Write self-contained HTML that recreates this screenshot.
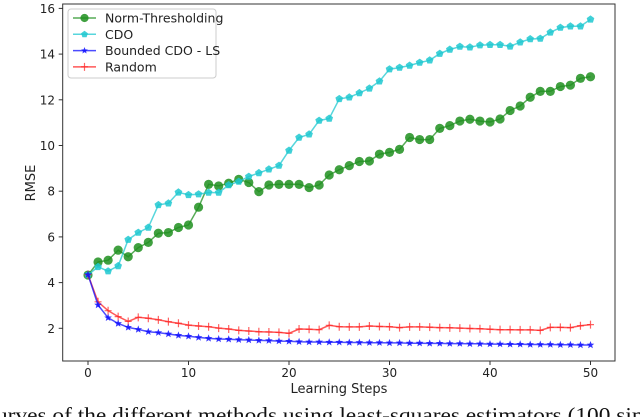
<!DOCTYPE html>
<html><head><meta charset="utf-8"><style>
html,body{margin:0;padding:0;background:#fff;width:640px;height:417px;overflow:hidden}
svg{display:block;font-family:"DejaVu Sans","Liberation Sans",sans-serif}
</style></head><body>
<svg id="chart" width="640" height="417" viewBox="0 0 640 417">
<rect x="0" y="0" width="640" height="417" fill="#fff"/>
<g id="grid"></g>
<g id="series"></g>
<rect x="62.7" y="4" width="552.3" height="357" fill="none" stroke="#333" stroke-width="1"/>
<g id="ticks"></g>
<text x="0" y="0" transform="translate(35,183) rotate(-90)" text-anchor="middle" font-size="13" fill="#222">RMSE</text>
<text x="339" y="393" text-anchor="middle" font-size="13" fill="#222">Learning Steps</text>
<g>
<rect x="68" y="9" width="148" height="69" rx="3" fill="#fff" fill-opacity="0.85" stroke="#ccc"/>
<g id="legend-items"></g>
</g>
<text x="-4" y="422" font-family="'Liberation Serif',serif" font-size="21" fill="#111" textLength="654" lengthAdjust="spacingAndGlyphs">urves of the different methods using least-squares estimators (100 sim</text>
</svg>
<script>
const steps = Array.from({length:51},(_, i)=>i);
const normThresholding = [4.33,4.90,4.98,5.42,5.13,5.53,5.76,6.16,6.19,6.41,6.52,7.30,8.30,8.23,8.35,8.52,8.38,7.98,8.27,8.30,8.30,8.30,8.16,8.27,8.71,8.94,9.12,9.30,9.32,9.62,9.70,9.83,10.35,10.26,10.26,10.75,10.87,11.07,11.15,11.07,11.03,11.16,11.53,11.73,12.11,12.37,12.37,12.58,12.64,12.94,13.01];
const cdo = [4.33,4.69,4.50,4.73,5.88,6.19,6.41,7.40,7.47,7.95,7.84,7.87,7.94,7.94,8.27,8.42,8.64,8.80,8.96,9.12,9.78,10.35,10.49,11.09,11.18,12.04,12.11,12.30,12.50,12.81,13.34,13.41,13.50,13.63,13.73,14.02,14.20,14.33,14.30,14.39,14.41,14.41,14.34,14.52,14.66,14.68,14.95,15.16,15.22,15.22,15.52];
const boundedCdo = [4.35,3.02,2.46,2.21,2.04,1.95,1.85,1.81,1.75,1.69,1.65,1.60,1.56,1.53,1.52,1.50,1.49,1.47,1.46,1.44,1.43,1.41,1.40,1.40,1.39,1.39,1.38,1.38,1.37,1.37,1.36,1.36,1.35,1.35,1.34,1.34,1.33,1.33,1.32,1.32,1.31,1.31,1.30,1.30,1.29,1.29,1.29,1.28,1.28,1.27,1.27];
const randomSeries = [4.35,3.16,2.77,2.51,2.30,2.48,2.44,2.37,2.29,2.22,2.14,2.10,2.07,2.01,1.97,1.91,1.88,1.85,1.84,1.82,1.78,1.97,1.96,1.94,2.13,2.07,2.06,2.06,2.10,2.08,2.07,2.03,2.06,2.06,2.05,2.03,2.02,2.01,1.99,1.98,1.96,1.94,1.94,1.93,1.93,1.91,2.04,2.04,2.03,2.11,2.16];
const xTicks = [0,10,20,30,40,50];
const yTicks = [2,4,6,8,10,12,14,16];
const legendLabels = ["Norm-Thresholding","CDO","Bounded CDO - LS","Random"];

const NS="http://www.w3.org/2000/svg";
function X(v){return 88+v*10.05;}
function Y(v){return 328.3-(v-2)*22.85;}
function mk(tag,attrs,parent){const e=document.createElementNS(NS,tag);for(const k in attrs)e.setAttribute(k,attrs[k]);parent.appendChild(e);return e;}

const ticks=document.getElementById('ticks');
xTicks.forEach(t=>{
  const l=mk('line',{x1:X(t),x2:X(t),y1:361,y2:365,stroke:'#333'},ticks);
  
  
  const tx=mk('text',{x:X(t),y:377,'text-anchor':'middle','font-size':12,fill:'#222'},ticks);
  tx.textContent=t;
  
  
});
yTicks.forEach(t=>{
  const l=mk('line',{x1:58.7,x2:62.7,y1:Y(t),y2:Y(t),stroke:'#333'},ticks);
  
  
  const tx=mk('text',{x:55,y:Y(t)+4.5,'text-anchor':'end','font-size':12,fill:'#222'},ticks);
  tx.textContent=t;
  
  
});

function marker(type,cx,cy,color,g,s){
  if(s===undefined)s=1;
  if(type==='circle'){return mk('circle',{cx:cx,cy:cy,r:4.6*s,fill:color,'fill-opacity':0.85},g);}
  if(type==='pent'){let p=[];for(let k=0;k<5;k++){const a=-Math.PI/2+k*2*Math.PI/5;p.push((cx+4*s*Math.cos(a)).toFixed(1)+','+(cy+4*s*Math.sin(a)).toFixed(1));}return mk('polygon',{points:p.join(' '),fill:color,'fill-opacity':0.85},g);}
  if(type==='star'){let p=[];for(let k=0;k<10;k++){const r=k%2?1.7*s:4*s;const a=-Math.PI/2+k*Math.PI/5;p.push((cx+r*Math.cos(a)).toFixed(1)+','+(cy+r*Math.sin(a)).toFixed(1));}return mk('polygon',{points:p.join(' '),fill:color,'fill-opacity':0.85},g);}
  if(type==='plus'){return mk('path',{d:`M${cx-3.5},${cy}H${cx+3.5}M${cx},${cy-4}V${cy+4}`,stroke:color,'stroke-opacity':0.7,'stroke-width':1.2,fill:'none'},g);}
}
const seriesDefs=[
 {vals:normThresholding,color:'#1f8f1f',m:'circle',name:'norm-thresholding'},
 {vals:cdo,color:'#1fc8d0',m:'pent',name:'cdo'},
 {vals:randomSeries,color:'#ff2020',m:'plus',name:'random'},
 {vals:boundedCdo,color:'#1010ff',m:'star',name:'bounded-cdo-ls'}
];
const sg=document.getElementById('series');
seriesDefs.forEach(s=>{
  const g=mk('g',{},sg);
  
  
  const pl=mk('polyline',{points:s.vals.map((v,i)=>X(steps[i]).toFixed(1)+','+Y(v).toFixed(1)).join(' '),fill:'none',stroke:s.color,'stroke-width':1.5,'stroke-opacity':0.75},g);
  
  
  s.vals.forEach((v,i)=>{
    const m=marker(s.m,X(steps[i]),Y(v),s.color,g);
    
    
  });
});
const lg=document.getElementById('legend-items');
const legendDefs=[['#1f8f1f','circle'],['#1fc8d0','pent'],['#1010ff','star'],['#ff2020','plus']];
legendLabels.forEach((lab,i)=>{
  const y=18+i*16.3;
  const g=mk('g',{},lg);
  
  
  mk('line',{x1:73,x2:96,y1:y,y2:y,stroke:legendDefs[i][0],'stroke-width':1.5,'stroke-opacity':0.75},g);
  marker(legendDefs[i][1],84.5,y,legendDefs[i][0],g,0.9);
  const t=mk('text',{x:105,y:y+4.5,'font-size':12.5,fill:'#222'},g);
  t.textContent=lab;
});
</script>
</body></html>
